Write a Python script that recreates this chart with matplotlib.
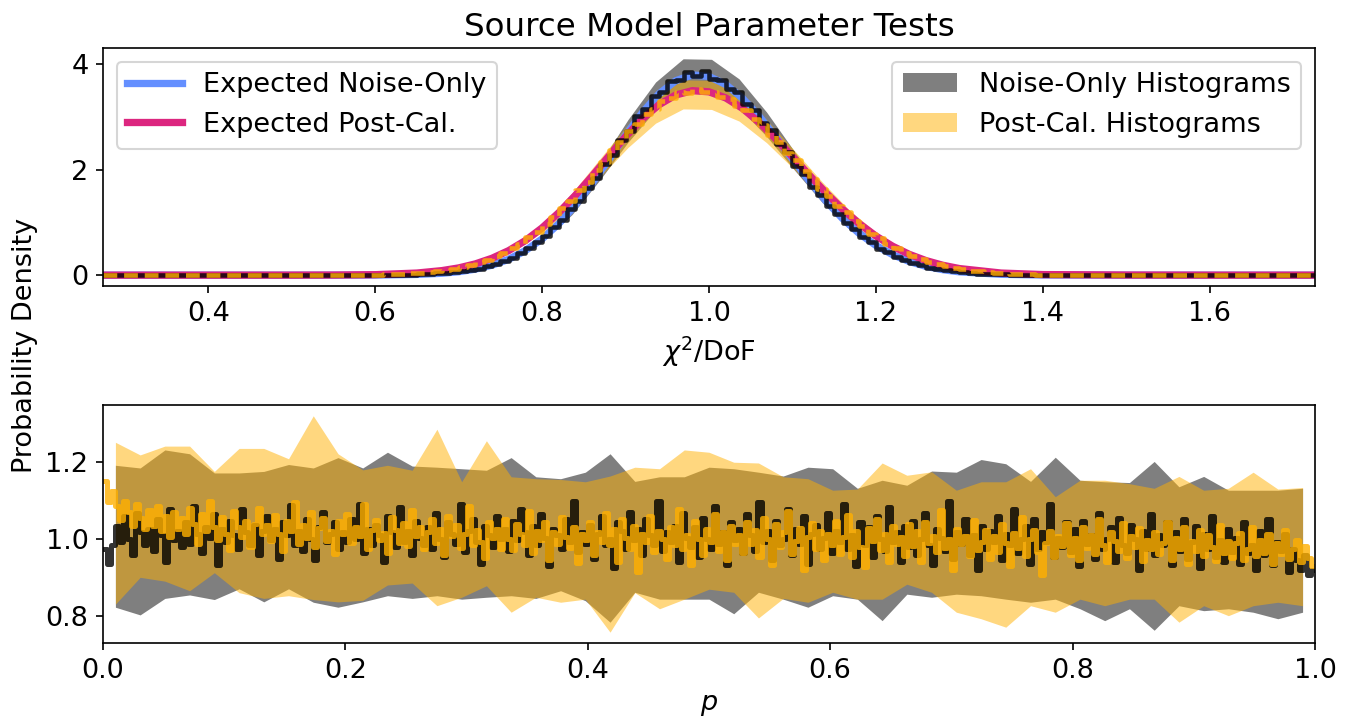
import numpy as np
import matplotlib.pyplot as plt

plt.rcParams['font.size'] = 13

# ---- top panel: chi2/DoF ----
# expected densities
chi_x = [0.274, 0.40, 0.50, 0.55, 0.60, 0.65, 0.68, 0.70, 0.72, 0.74, 0.76, 0.78,
         0.80, 0.82, 0.84, 0.86, 0.88, 0.90, 0.92, 0.94, 0.96, 0.98, 1.00, 1.02,
         1.04, 1.06, 1.08, 1.10, 1.12, 1.14, 1.16, 1.18, 1.20, 1.22, 1.24, 1.26,
         1.28, 1.30, 1.35, 1.40, 1.50, 1.60, 1.726]
exp_noise = [0.0, 0.0, 0.0, 0.0001, 0.002, 0.014, 0.036, 0.065, 0.114, 0.189, 0.30, 0.465,
             0.686, 0.974, 1.329, 1.740, 2.190, 2.648, 3.077, 3.434, 3.683, 3.795, 3.765, 3.613,
             3.354, 3.012, 2.617, 2.201, 1.790, 1.408, 1.072, 0.790, 0.563, 0.388, 0.259, 0.167,
             0.104, 0.063, 0.016, 0.003, 0.0, 0.0, 0.0]
exp_post = [0.0, 0.0, 0.0003, 0.002, 0.009, 0.040, 0.086, 0.137, 0.213, 0.320, 0.465, 0.655,
            0.895, 1.183, 1.514, 1.877, 2.255, 2.624, 2.958, 3.228, 3.413, 3.496, 3.474, 3.359,
            3.162, 2.897, 2.584, 2.245, 1.898, 1.562, 1.251, 0.976, 0.741, 0.548, 0.394, 0.276,
            0.188, 0.125, 0.040, 0.011, 0.002, 0.0, 0.0]

# mean histograms, 0.01 wide bins between 0.60 and 1.45
hist_noise = [0.003, 0.005, 0.006, 0.009, 0.011, 0.017, 0.022, 0.032, 0.041, 0.059,
              0.073, 0.102, 0.126, 0.171, 0.209, 0.276, 0.332, 0.426, 0.508, 0.634,
              0.745, 0.908, 1.043, 1.251, 1.414, 1.651, 1.832, 2.098, 2.281, 2.561,
              2.731, 3.012, 3.141, 3.392, 3.471, 3.672, 3.702, 3.842, 3.771, 3.865,
              3.712, 3.698, 3.521, 3.462, 3.238, 3.131, 2.884, 2.748, 2.487, 2.331,
              2.071, 1.912, 1.668, 1.521, 1.302, 1.168, 0.982, 0.868, 0.716, 0.623,
              0.505, 0.434, 0.345, 0.292, 0.228, 0.191, 0.145, 0.121, 0.089, 0.074,
              0.053, 0.043, 0.031, 0.025, 0.017, 0.014, 0.009, 0.007, 0.005, 0.004,
              0.003, 0.002, 0.001, 0.001, 0.001]
hist_post = [0.012, 0.014, 0.021, 0.025, 0.036, 0.045, 0.061, 0.074, 0.099, 0.121,
             0.157, 0.188, 0.241, 0.286, 0.358, 0.419, 0.516, 0.597, 0.722, 0.821,
             0.975, 1.094, 1.278, 1.411, 1.621, 1.768, 1.994, 2.142, 2.371, 2.517,
             2.735, 2.861, 3.058, 3.149, 3.309, 3.358, 3.472, 3.461, 3.523, 3.471,
             3.478, 3.377, 3.339, 3.197, 3.125, 2.951, 2.845, 2.648, 2.523, 2.312,
             2.178, 1.966, 1.831, 1.628, 1.498, 1.311, 1.192, 1.028, 0.924, 0.785,
             0.698, 0.585, 0.512, 0.423, 0.366, 0.297, 0.255, 0.204, 0.173, 0.136,
             0.114, 0.088, 0.073, 0.056, 0.046, 0.034, 0.028, 0.020, 0.017, 0.012,
             0.009, 0.007, 0.005, 0.004, 0.003]

# min / max envelopes of the individual histograms
band_x = [0.274, 0.603, 0.636, 0.669, 0.703, 0.736, 0.769, 0.803, 0.836, 0.869, 0.903, 0.936,
          0.969, 1.003, 1.036, 1.069, 1.103, 1.136, 1.169, 1.203, 1.236, 1.269, 1.303, 1.336,
          1.369, 1.403, 1.436, 1.726]
noise_lo = [0.0, 0.0, 0.0, 0.01, 0.05, 0.145, 0.33, 0.665, 1.15, 1.80, 2.52, 3.13,
            3.50, 3.49, 3.17, 2.63, 1.98, 1.37, 0.86, 0.48, 0.25, 0.115, 0.045, 0.012,
            0.002, 0.0, 0.0, 0.0]
noise_hi = [0.02, 0.025, 0.03, 0.05, 0.10, 0.205, 0.42, 0.80, 1.37, 2.11, 2.95, 3.66,
            4.10, 4.09, 3.72, 3.09, 2.33, 1.62, 1.03, 0.60, 0.32, 0.16, 0.075, 0.04,
            0.025, 0.02, 0.02, 0.02]
post_lo = [0.0, 0.003, 0.015, 0.05, 0.125, 0.26, 0.49, 0.84, 1.30, 1.85, 2.42, 2.88,
           3.15, 3.14, 2.92, 2.51, 1.99, 1.47, 1.01, 0.64, 0.38, 0.205, 0.10, 0.045,
           0.018, 0.006, 0.002, 0.0]
post_hi = [0.03, 0.04, 0.055, 0.10, 0.185, 0.345, 0.61, 1.02, 1.56, 2.20, 2.86, 3.39,
           3.70, 3.69, 3.42, 2.95, 2.35, 1.76, 1.22, 0.78, 0.47, 0.27, 0.14, 0.08,
           0.05, 0.035, 0.03, 0.03]

# ---- bottom panel: p-values ----
# mean histograms, 300 bins on [0, 1]
p_noise = [
    0.975, 0.935, 0.983, 1.034, 0.992, 1.06, 1.0, 0.958, 1.068, 1.017, 0.983, 1.026, 0.969, 1.051, 1.009, 0.94, 1.077, 0.997, 1.02, 0.98,
    1.043, 0.986, 1.085, 1.014, 0.963, 1.031, 1.003, 1.065, 0.932, 1.026, 0.992, 1.048, 1.01, 0.975, 1.077, 1.017, 0.983, 1.037, 0.958, 1.02,
    1.06, 0.997, 1.026, 0.949, 1.043, 1.009, 1.088, 0.983, 1.02, 0.969, 1.051, 1.0, 0.946, 1.031, 1.071, 0.992, 1.014, 1.043, 0.975, 1.017,
    0.992, 1.051, 1.0, 1.09, 0.963, 1.026, 0.983, 1.037, 1.009, 0.94, 1.06, 1.017, 0.98, 1.082, 0.993, 1.02, 0.958, 1.048, 1.003, 0.983,
    1.031, 0.975, 1.068, 1.0, 0.952, 1.043, 1.014, 0.986, 1.09, 0.966, 1.02, 1.051, 0.992, 0.935, 1.034, 1.009, 0.98, 1.06, 1.0, 1.026,
    0.969, 1.048, 0.997, 1.077, 1.017, 0.958, 1.034, 0.983, 1.065, 1.003, 0.929, 1.026, 1.009, 0.975, 1.051, 0.992, 1.1, 0.966, 1.017, 0.986,
    1.037, 0.949, 1.014, 1.06, 0.983, 1.0, 0.924, 1.043, 1.02, 0.975, 1.071, 0.997, 1.026, 0.958, 1.051, 1.009, 0.983, 1.099, 0.969, 1.017,
    0.992, 1.034, 0.94, 1.068, 1.003, 0.98, 1.031, 0.952, 1.054, 1.0, 0.975, 1.085, 0.986, 1.017, 0.932, 1.043, 0.997, 1.026, 0.963, 1.065,
    1.009, 0.969, 1.095, 0.992, 1.02, 0.946, 1.048, 0.983, 1.0, 1.077, 0.958, 1.026, 0.986, 1.06, 0.935, 1.014, 1.037, 0.975, 1.003, 1.068,
    0.963, 1.02, 0.992, 1.09, 0.975, 1.009, 0.929, 1.043, 0.983, 1.031, 0.952, 1.06, 1.0, 0.969, 1.082, 0.992, 1.017, 0.94, 1.034, 0.98,
    1.048, 0.958, 1.0, 1.068, 0.983, 0.932, 1.026, 1.003, 0.969, 1.1, 0.949, 1.017, 0.986, 1.051, 0.958, 1.009, 0.918, 1.034, 0.975, 1.02,
    0.992, 1.06, 0.946, 1.014, 0.983, 1.077, 0.963, 1.0, 1.034, 0.935, 1.051, 0.975, 1.017, 0.992, 1.09, 0.952, 1.003, 0.98, 1.043, 0.966,
    1.026, 0.929, 1.048, 0.986, 1.009, 0.949, 1.068, 0.975, 1.0, 1.031, 0.94, 1.054, 0.983, 0.963, 1.037, 1.0, 0.918, 1.02, 0.975, 1.065,
    0.958, 1.009, 0.983, 1.043, 0.932, 1.017, 0.969, 1.051, 0.949, 0.992, 1.034, 0.924, 1.014, 0.975, 1.06, 0.952, 0.997, 0.94, 1.026, 0.966,
    1.003, 0.935, 1.043, 0.963, 0.983, 0.918, 1.02, 0.958, 1.051, 0.932, 0.992, 0.969, 1.014, 0.915, 0.975, 0.946, 0.92, 0.958, 0.905, 0.92]
p_post = [
    1.15, 1.095, 1.125, 1.085, 1.05, 1.10, 1.07, 1.035, 1.09, 1.055, 1.025, 1.075, 1.035, 1.085, 1.02, 1.06, 1.005, 1.07, 1.025, 1.055,
    1.013, 1.081, 1.039, 0.988, 1.064, 1.022, 1.098, 1.03, 0.996, 1.056, 1.013, 0.971, 1.073, 1.03, 1.005, 1.047, 0.979, 1.039, 1.081, 1.013,
    1.037, 0.995, 1.063, 1.012, 0.969, 1.046, 1.02, 1.097, 0.986, 1.037, 1.003, 1.071, 0.978, 1.029, 1.054, 0.995, 1.02, 0.96, 1.046, 1.012,
    1.066, 0.99, 1.032, 1.007, 1.092, 0.973, 1.024, 1.049, 0.998, 1.015, 0.964, 1.058, 1.024, 0.99, 1.041, 0.981, 1.075, 1.007, 1.032, 0.973,
    1.019, 1.053, 0.99, 1.027, 0.959, 1.061, 1.007, 1.036, 0.976, 1.013, 1.087, 0.985, 1.024, 0.993, 0.951, 1.044, 1.002, 1.027, 0.973, 1.053,
    1.0, 0.971, 1.039, 1.014, 0.983, 1.073, 0.963, 1.022, 0.997, 1.044, 0.946, 1.017, 0.988, 1.056, 1.005, 0.976, 1.031, 0.937, 1.014, 0.997,
    1.043, 0.958, 1.017, 0.992, 1.068, 0.983, 1.026, 0.94, 1.051, 1.003, 0.975, 1.034, 0.915, 1.014, 0.992, 1.06, 0.966, 1.02, 1.0, 0.949,
    1.031, 0.983, 1.077, 0.975, 1.009, 0.932, 1.048, 1.0, 0.958, 1.026, 0.992, 1.065, 0.969, 1.017, 0.946, 1.034, 0.986, 1.009, 0.963, 1.043,
    0.987, 1.024, 0.953, 1.055, 1.0, 0.932, 1.038, 0.978, 1.017, 1.072, 0.961, 0.995, 1.029, 0.919, 1.004, 1.041, 0.973, 1.021, 0.944, 1.012,
    0.983, 1.046, 0.961, 1.004, 1.063, 0.953, 1.021, 0.978, 0.927, 1.029, 0.995, 1.051, 0.97, 1.012, 0.939, 1.034, 0.987, 1.004, 0.956, 1.038,
    0.982, 1.021, 0.939, 1.044, 0.99, 1.007, 0.965, 1.075, 0.976, 0.999, 0.919, 1.027, 0.987, 1.007, 0.956, 1.05, 0.97, 0.993, 1.024, 0.948,
    1.007, 0.965, 1.038, 0.99, 0.93, 1.016, 0.976, 1.058, 0.956, 0.999, 1.024, 0.965, 0.905, 0.99, 1.021, 0.953, 1.007, 0.982, 1.041, 0.959,
    1.002, 0.946, 1.031, 0.977, 1.011, 0.96, 1.053, 0.985, 0.939, 1.019, 0.994, 0.968, 1.041, 0.951, 1.007, 0.98, 1.028, 0.943, 0.997, 0.973,
    1.019, 0.96, 0.99, 1.045, 0.946, 1.002, 0.973, 1.031, 0.934, 0.994, 0.968, 1.024, 0.956, 1.011, 0.98, 0.943, 1.036, 0.963, 0.994, 0.951,
    0.99, 1.015, 0.944, 0.973, 1.032, 0.956, 0.998, 0.964, 1.012, 0.934, 0.99, 0.961, 1.024, 0.947, 0.973, 0.998, 0.939, 0.981, 0.951, 0.93]

# envelopes, 49 coarse bins
p_noise_lo = [0.822, 0.802, 0.845, 0.854, 0.842, 0.870, 0.836, 0.870, 0.835, 0.822,
              0.836, 0.852, 0.845, 0.852, 0.843, 0.848, 0.852, 0.845, 0.865, 0.839,
              0.783, 0.861, 0.843, 0.843, 0.843, 0.805, 0.861, 0.843, 0.822, 0.852,
              0.843, 0.787, 0.856, 0.848, 0.856, 0.852, 0.843, 0.835, 0.843, 0.818,
              0.787, 0.818, 0.762, 0.826, 0.813, 0.818, 0.809, 0.792, 0.809]
p_noise_hi = [1.192, 1.185, 1.232, 1.222, 1.172, 1.172, 1.176, 1.194, 1.185, 1.212,
              1.185, 1.226, 1.190, 1.187, 1.183, 1.179, 1.212, 1.162, 1.157, 1.174,
              1.222, 1.150, 1.162, 1.162, 1.187, 1.183, 1.174, 1.164, 1.187, 1.183,
              1.132, 1.153, 1.140, 1.177, 1.174, 1.207, 1.196, 1.150, 1.213, 1.153,
              1.149, 1.147, 1.202, 1.136, 1.163, 1.127, 1.127, 1.127, 1.132]
p_post_lo = [0.830, 0.900, 0.890, 0.865, 0.912, 0.860, 0.845, 0.852, 0.842, 0.836,
             0.840, 0.880, 0.885, 0.826, 0.848, 0.878, 0.809, 0.848, 0.835, 0.843,
             0.757, 0.860, 0.818, 0.843, 0.869, 0.861, 0.794, 0.845, 0.835, 0.861,
             0.843, 0.843, 0.882, 0.861, 0.809, 0.792, 0.770, 0.826, 0.809, 0.843,
             0.826, 0.843, 0.843, 0.783, 0.826, 0.800, 0.826, 0.835, 0.826]
p_post_hi = [1.252, 1.219, 1.242, 1.242, 1.176, 1.236, 1.236, 1.209, 1.321, 1.222,
             1.180, 1.192, 1.179, 1.286, 1.149, 1.256, 1.162, 1.157, 1.155, 1.149,
             1.164, 1.187, 1.183, 1.232, 1.226, 1.200, 1.198, 1.162, 1.157, 1.127,
             1.130, 1.198, 1.166, 1.175, 1.127, 1.149, 1.149, 1.183, 1.110, 1.153,
             1.153, 1.144, 1.132, 1.163, 1.127, 1.132, 1.174, 1.130, 1.134]

blue = '#648FFF'
magenta = '#DC267F'
gold = '#FFB000'


def step_line(ax, edges, vals, **kw):
    # histogram outline as a single connected line
    vals = np.asarray(vals, dtype=float)
    ax.step(edges, np.append(vals, vals[-1]), where='post', **kw)


fig, (ax1, ax2) = plt.subplots(2, 1, figsize=(8.98, 4.807), dpi=150)
fig.subplots_adjust(left=0.0765, right=0.9762, top=0.9334, bottom=0.1082, hspace=0.5)

# top panel
x_lo, x_hi = 0.274, 1.726
edges = np.concatenate([[x_lo], np.linspace(0.60, 1.45, len(hist_noise) + 1), [x_hi]])
g = ax1.fill_between(band_x, noise_lo, noise_hi, color='k', alpha=0.5, lw=0,
                     label='Noise-Only Histograms')
y = ax1.fill_between(band_x, post_lo, post_hi, color=gold, alpha=0.5, lw=0,
                     label='Post-Cal. Histograms')
l1, = ax1.plot(chi_x, exp_noise, color=blue, lw=3.5, label='Expected Noise-Only')
l2, = ax1.plot(chi_x, exp_post, color=magenta, lw=3.5, label='Expected Post-Cal.')
step_line(ax1, edges, np.concatenate([[0], hist_noise, [0]]), color='k', alpha=0.8, lw=2.2)
step_line(ax1, edges, np.concatenate([[0], hist_post, [0]]), color=gold, alpha=0.8, lw=2.2,
          dashes=(3, 1.5))
ax1.set_xlim(x_lo, x_hi)
ax1.set_yticks([0, 2, 4])
ax1.set_xlabel(r'$\chi^2$/DoF')
ax1.set_title('Source Model Parameter Tests')
leg1 = ax1.legend(handles=[l1, l2], loc='upper left')
ax1.add_artist(leg1)
ax1.legend(handles=[g, y], loc='upper right')

# bottom panel
p_edges = np.linspace(0, 1, len(p_noise) + 1)
p_band = np.linspace(0.0102, 0.9898, len(p_noise_lo))
ax2.fill_between(p_band, p_noise_lo, p_noise_hi, color='k', alpha=0.5, lw=0)
ax2.fill_between(p_band, p_post_lo, p_post_hi, color=gold, alpha=0.5, lw=0)
step_line(ax2, p_edges, p_noise, color='k', alpha=0.8, lw=2.4)
step_line(ax2, p_edges, p_post, color=gold, alpha=0.8, lw=2.4)
ax2.set_xlim(0, 1)
ax2.set_yticks([0.8, 1.0, 1.2])
ax2.set_xlabel(r'$p$')

fig.text(0.0186, 0.5207, 'Probability Density', rotation=90, va='center', ha='center')

fig.savefig('out.png', dpi=150)
